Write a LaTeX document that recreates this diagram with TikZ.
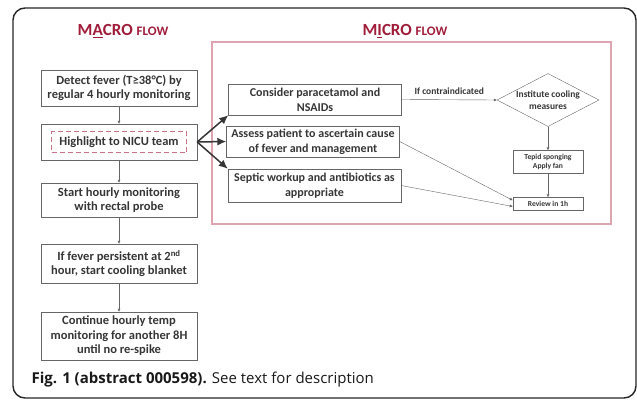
\documentclass[tikz,border=0pt]{standalone}
\usepackage{fontspec}
\setmainfont{Carlito}
\newfontfamily\captionfont{Open Sans}
\usepackage{tikz}
\usetikzlibrary{arrows.meta,positioning,shapes.geometric,calc}
\definecolor{wine}{HTML}{A01D3A}
\definecolor{blush}{HTML}{DDA5AF}
\definecolor{rose}{HTML}{C97388}
\definecolor{ink}{HTML}{363636}
\definecolor{edge}{HTML}{666666}

\begin{document}
\begin{tikzpicture}[x=1pt,y=-1pt,
  macro/.style={draw=edge,fill=white,text=ink,font=\bfseries\fontsize{12.5}{14.5}\selectfont,align=center,minimum width=156pt,inner sep=0pt},
  micro/.style={draw=edge,fill=white,text=ink,font=\bfseries\fontsize{12}{15}\selectfont,align=center,minimum width=173pt,minimum height=31pt,inner sep=0pt},
  small/.style={draw=edge,fill=white,text=ink,font=\bfseries\fontsize{7.6}{9.5}\selectfont,align=center,minimum width=70pt,inner sep=0pt},
  flow/.style={-{Latex[length=3pt,width=3pt]},draw=edge,thin},
  fan/.style={-{Latex[length=9pt,width=8pt]},draw=ink,line width=1.5pt},
  title/.style={text=wine,font=\bfseries\fontsize{17}{19}\selectfont}
]
  \useasboundingbox (0,0) rectangle (637,400);
  \draw[line width=1.4pt,draw=black!85,rounded corners=12pt] (13,8) rectangle (636,398);
  \draw[blush,line width=1.2pt] (212,42) rectangle (611,224);

  % titles
  \node[title] (macrotitle) at (123,31) {M\underline{A}CRO {\fontsize{13}{15}\selectfont FLOW}};
  \node[title] (microtitle) at (405,31) {M\underline{I}CRO {\fontsize{13}{15}\selectfont FLOW}};

  % macro flow
  \node[macro,minimum height=36pt] (detect) at (119,88) {Detect fever (T≥38°C) by\\regular 4 hourly monitoring};
  \node[macro,minimum height=36pt] (nicu) at (119,142) {};
  \node[draw=rose,dashed,line width=0.9pt,dash pattern=on 5pt off 3pt,text=ink,font=\bfseries\fontsize{12.5}{14.5}\selectfont,minimum width=135pt,minimum height=21pt,inner sep=0pt] (nicutext) at (nicu) {Highlight to NICU team};
  \node[macro,minimum height=34pt] (hourly) at (119,200) {Start hourly monitoring\\with rectal probe};
  \node[macro,minimum height=39pt] (blanket) at (119,263.5) {If fever persistent at 2\textsuperscript{nd}\\hour, start cooling blanket};
  \node[macro,minimum height=48pt] (respike) at (119,336) {Continue hourly temp\\monitoring for another 8H\\until no re-spike};
  \draw[flow] (detect) -- (nicu);
  \draw[flow] (nicu) -- (hourly);
  \draw[flow] (hourly) -- (blanket);
  \draw[flow] (blanket) -- (respike);

  % micro flow
  \node[micro] (nsaid) at (315,99.5) {Consider paracetamol and\\NSAIDs};
  \node[micro] (cause) at (313,141.5) {Assess patient to ascertain cause\\of fever and management};
  \node[micro,minimum height=33pt] (septic) at (314.5,185.5) {Septic workup and antibiotics as\\appropriate};
  \node[diamond,aspect=2,draw=edge,text=ink,font=\bfseries\fontsize{9.5}{11.5}\selectfont,align=center,minimum width=102pt,minimum height=53pt,inner sep=-3pt] (cool) at (548,100) {Institute cooling\\measures};
  \node[small,minimum height=23pt] (sponge) at (548,162) {Tepid sponging\\Apply fan};
  \node[small,minimum height=13pt] (review) at (548,204) {Review in 1h};

  \draw[fan] (nicu.east) -- (nsaid.south west);
  \draw[fan] (nicu.east) -- (cause.west);
  \draw[fan] (nicu.east) -- (septic.north west);
  \draw[flow] (nsaid.east) -- node[above=2pt,text=ink,font=\bfseries\fontsize{9.5}{11}\selectfont] {If contraindicated} (cool.west);
  \draw[flow] (cool) -- (sponge);
  \draw[flow] (sponge) -- (review);
  \draw[flow] (cause.east) -- (review.174);
  \draw[flow] (septic.east) -- (review.184);

  % caption
  \node[anchor=west,text=black!90,font=\captionfont\fontsize{15}{18}\selectfont] (caption) at (28,380) {\textbf{Fig. 1 (abstract 000598).} See text for description};
\end{tikzpicture}
\end{document}
